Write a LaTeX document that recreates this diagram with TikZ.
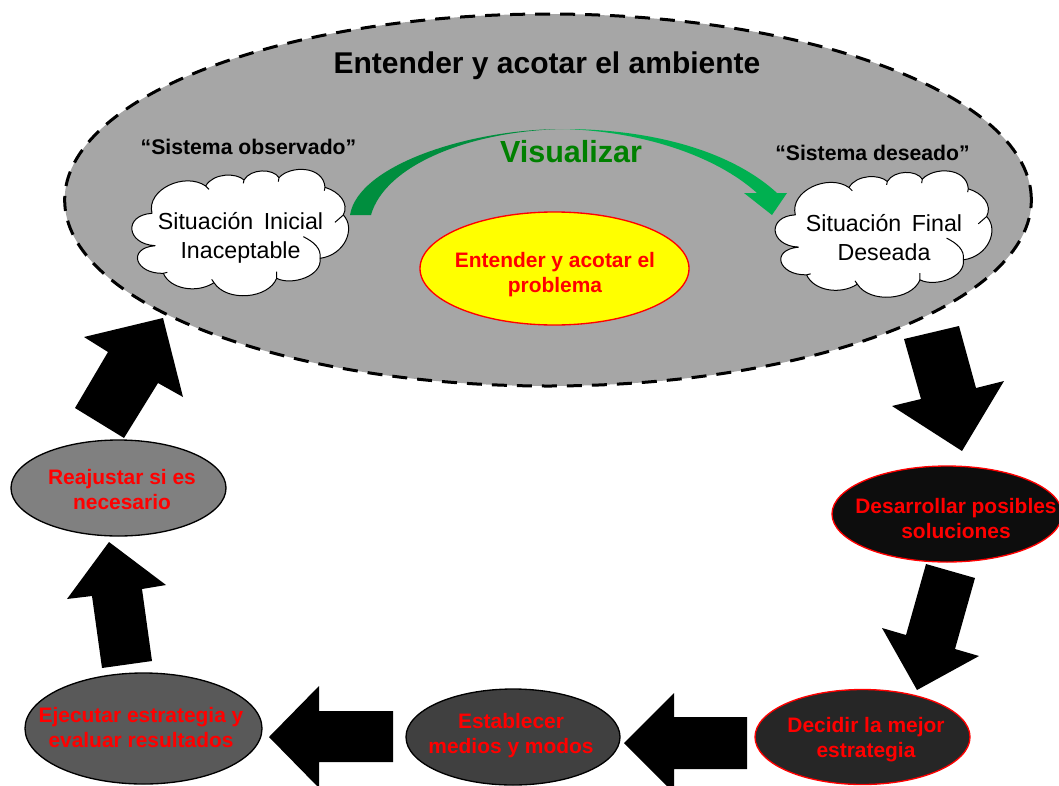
\documentclass[tikz,border=0pt]{standalone}
\usepackage{fontspec}
\setmainfont{Liberation Sans}
\usetikzlibrary{shapes.geometric}
\definecolor{bigfill}{HTML}{A6A6A6}
\definecolor{vizdark}{HTML}{008E3E}
\definecolor{vizlight}{HTML}{00B050}
\definecolor{vizword}{HTML}{008000}
\definecolor{puryellow}{HTML}{FFFF00}
\newcommand{\cloudshape}[2]{%
  \begin{scope}[shift={(#1,#2)},x=0.25pt,y=-0.25pt]
    \filldraw[fill=white,draw=black,line width=0.75pt,line join=round]
      (276,340) .. controls (258,268) and (375,215) .. (437,258)
      .. controls (460,218) and (530,218) .. (552,240)
      .. controls (572,205) and (640,205) .. (657,233)
      .. controls (690,196) and (790,196) .. (795,262)
      .. controls (838,275) and (868,310) .. (850,345)
      .. controls (888,385) and (855,465) .. (780,475)
      .. controls (788,528) and (695,558) .. (650,535)
      .. controls (625,597) and (500,607) .. (462,548)
      .. controls (410,582) and (330,567) .. (310,520)
      .. controls (225,522) and (200,445) .. (285,437)
      .. controls (198,432) and (190,345) .. (276,340) -- cycle;
    \draw[black,line width=0.75pt]
      (437,258) -- (447,268) (552,240) -- (550,250) (657,233) -- (655,245)
      (795,262) -- (793,272) (850,345) -- (825,367)
      (780,475) .. controls (785,445) and (760,425) .. (730,410)
      (650,535) -- (650,515) (462,548) -- (455,538) (310,520) -- (322,517)
      (285,437) -- (270,437);
  \end{scope}}
\tikzset{
  x=0.75pt,y=-0.75pt,
  ell/.style={ellipse,inner sep=0pt,line width=1pt,draw=black},
  redell/.style={ell,draw=red},
  blockarrow/.style={fill=black,draw=none},
  lbl/.style={text=red,font=\bfseries\fontsize{15.7pt}{18.75pt}\selectfont,align=center,inner sep=0pt},
  quote/.style={text=black,font=\bfseries\fontsize{15.9pt}{18pt}\selectfont,inner sep=0pt},
  cloudtxt/.style={text=black,font=\fontsize{17.4pt}{21.75pt}\selectfont,align=center,inner sep=0pt},
}
\begin{document}
\begin{tikzpicture}
  \useasboundingbox (0,0) rectangle (1059,785);
  \clip (0,0) rectangle (1059,785);

  % big ellipse
  \node[ellipse,inner sep=0pt,minimum width=725pt,minimum height=279pt,fill=bigfill,draw=black,
        line width=2.25pt,dash pattern=on 11.25pt off 7.5pt] (ambiente) at (548,200) {};
  \node[text=black,font=\bfseries\fontsize{22.5pt}{26pt}\selectfont,inner sep=0pt] (titulo) at (547,66) {Entender y acotar el ambiente};

  % curved arrow
  \fill[vizdark] (350,215) .. controls (358,165) and (470,129) .. (563,129)
     .. controls (470,131) and (385,165) .. (371,215) -- cycle;
  \fill[vizlight] (563,129) .. controls (650,129) and (730,150) .. (777,193)
     -- (787,193) -- (772,215) -- (744,193) -- (757,193)
     .. controls (715,155) and (640,131) .. (563,129) -- cycle;
  \node[text=vizword,font=\bfseries\fontsize{22.9pt}{28pt}\selectfont,inner sep=0pt] (visualizar) at (571,152) {Visualizar};

  \node[quote] (observado) at (248.5,147) {“Sistema observado”};
  \node[quote] (deseado) at (872.5,153) {“Sistema deseado”};

  \cloudshape{60}{100}
  \node[cloudtxt] (inicial) at (240.5,237.7) {Situación\hspace{0.45em}Inicial\\Inaceptable};
  \cloudshape{703.3}{101.5}
  \node[cloudtxt] (final) at (884,237.7) {Situación\hspace{0.45em}Final\\Deseada};

  % inner ellipse
  \node[redell,fill=puryellow,minimum width=201.75pt,minimum height=84.75pt] (problema) at (554.5,268.5) {};
  \node[lbl] (tproblema) at (555,275) {Entender y acotar el\\problema};

  % process ellipses
  \node[redell,fill=black!95,minimum width=172.5pt,minimum height=72pt] (desarrollar) at (947,514) {};
  \node[lbl] (tdesarrollar) at (956,518.5) {Desarrollar posibles\\soluciones};
  \node[redell,fill=black!85,minimum width=161.25pt,minimum height=71.25pt] (decidir) at (862.5,737) {};
  \node[lbl] (tdecidir) at (866,740) {Decidir la mejor\\estrategia};
  \node[ell,fill=black!75,minimum width=160.5pt,minimum height=72pt] (establecer) at (513,737) {};
  \node[lbl] (testablecer) at (511,736) {Establecer\\medios y modos};
  \node[ell,fill=black!65,minimum width=177.75pt,minimum height=83.25pt] (ejecutar) at (143.5,728.5) {};
  \node[lbl] (tejecutar) at (141,728) {Ejecutar estrategia y\\evaluar resultados};
  \node[ell,fill=black!50,minimum width=161.25pt,minimum height=72pt] (reajustar) at (118.5,488) {};
  \node[lbl] (treajustar) at (122,490) {Reajustar si es\\necesario};

  % block arrows
  \fill[blockarrow] (904,339) -- (959,326) -- (976,388) -- (1004,381) -- (962,451) -- (892,406) -- (921,399) -- cycle;
  \fill[blockarrow] (926,564) -- (975,578) -- (955,649) -- (979,656) -- (917,690) -- (882,628) -- (906,635) -- cycle;
  \fill[blockarrow] (747,717) -- (747,769) -- (674,769) -- (674,793) -- (624,743) -- (674,693) -- (674,717) -- cycle;
  \fill[blockarrow] (393,711) -- (393,762) -- (319,762) -- (319,788) -- (269,737) -- (319,686) -- (319,711) -- cycle;
  \fill[blockarrow] (102,668) -- (152,661) -- (142,589) -- (166,585) -- (109,542) -- (67,599) -- (92,596) -- cycle;
  \fill[blockarrow] (124,438) -- (75,408) -- (108,352) -- (84,337) -- (163,318) -- (183,397) -- (158,383) -- cycle;
\end{tikzpicture}
\end{document}
